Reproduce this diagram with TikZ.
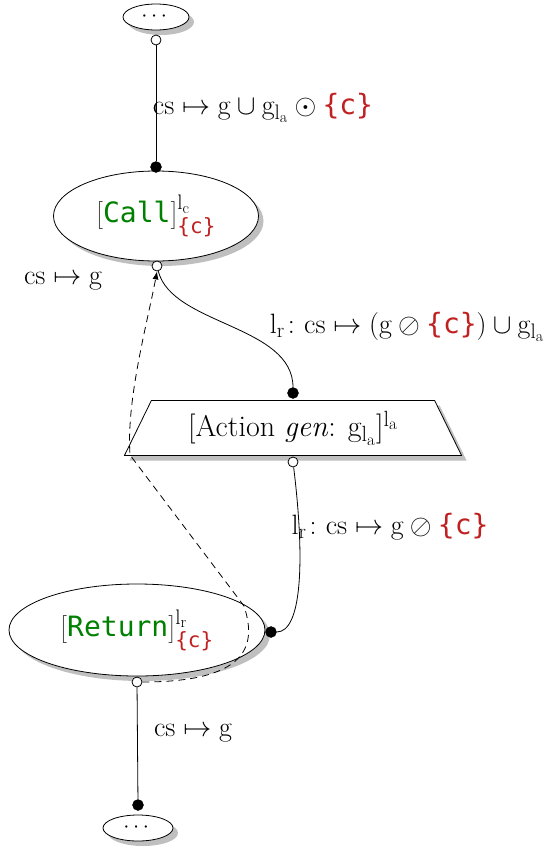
\RequirePackage{fix-cm}
\documentclass[tikz,border=0pt]{standalone}
\usepackage{amsmath}
\usepackage{fontspec}
\setmonofont{DejaVu Sans Mono}
\usetikzlibrary{shapes.geometric,shadows,arrows.meta}
\DeclareMathSizes{28}{28}{21}{16}
\DeclareMathSizes{30}{30}{22}{17}
\definecolor{kwgreen}{RGB}{0,128,0}
\definecolor{setred}{RGB}{192,32,32}
\definecolor{brk}{RGB}{70,70,70}
\newcommand{\setc}{\textcolor{setred}{\texttt{\{c\}}}}
\newcommand{\rr}[1]{\mathrm{#1}}
\begin{document}
\begin{tikzpicture}[x=1pt,y=1pt,
  every node/.style={font=\fontsize{28}{32}\selectfont},
  shad/.style={drop shadow={fill=black!25, opacity=1, shadow xshift=5pt, shadow yshift=-5pt}},
  stmt/.style={draw, fill=white, ellipse, inner sep=0pt, line width=0.8pt, shad},
  dotsnode/.style={stmt, font=\fontsize{22}{24}\selectfont},
  portin/.style={circle, draw, fill=white, inner sep=0pt, minimum size=10pt, line width=0.8pt},
  portout/.style={circle, draw, fill=black, inner sep=0pt, minimum size=11pt},
  conn/.style={line width=0.8pt},
  lbl/.style={inner sep=0pt}
]
\useasboundingbox (0,0) rectangle (558,-854);

% nodes
\node[dotsnode, minimum width=66pt, minimum height=26pt] (top) at (156,-17) {$\cdots$};
\node[stmt, minimum width=205pt, minimum height=90pt] (call) at (156,-216)
  {$\textcolor{brk}{[}\texttt{\textcolor{kwgreen}{Call}}\textcolor{brk}{]}^{\rr{l}_\rr{c}}_{\setc}$};
\node[draw, fill=white, trapezium, trapezium left angle=60, trapezium right angle=60,
  trapezium stretches=true, minimum width=338pt, minimum height=55pt, inner sep=0pt,
  line width=0.8pt, shad, font=\fontsize{30}{34}\selectfont] (act) at (293,-428)
  {[Action \emph{gen}: $\rr{g}_{\rr{l}_\rr{a}}$]$^{\rr{l}_\rr{a}}$};
\node[stmt, minimum width=256pt, minimum height=92pt] (ret) at (137,-630)
  {$\textcolor{brk}{[}\texttt{\textcolor{kwgreen}{Return}}\textcolor{brk}{]}^{\rr{l}_\rr{r}}_{\setc}$};
\node[dotsnode, minimum width=70pt, minimum height=26pt] (bot) at (138,-828) {$\cdots$};

% ports
\node[portin] (p1) at (156,-40) {};
\node[portout] (p2) at (156,-167) {};
\node[portin] (p3) at (157,-266) {};
\node[portout] (p4) at (293,-393) {};
\node[portin] (p5) at (293,-462) {};
\node[portout] (p6) at (271,-632) {};
\node[portin] (p7) at (137,-682) {};
\node[portout] (p8) at (138,-805) {};

% connectors
\draw[conn] (p1) -- (p2);
\draw[conn] (p3) .. controls (172,-325) and (293,-325) .. (p4);
\draw[conn] (p5) .. controls (305,-560) and (302,-632) .. (p6);
\draw[conn] (p7) -- (p8);

% dashed
\coordinate (d1) at (244,-606);
\coordinate (d2) at (130,-455);
\draw[conn, dash pattern=on 7pt off 5pt, -{Latex[length=8pt,width=6pt]}]
  (p7.east) .. controls (255,-682) and (255,-640) .. (d1)
  -- (d2) .. controls (126,-400) and (148,-320) .. (p3.south);

% labels
\node[lbl] (l1) at (263,-108) {$\rr{cs}\mapsto \rr{g}\cup \rr{g}_{\rr{l}_\rr{a}}\odot \setc$};
\node[lbl] (l2) at (63,-281) {$\rr{cs}\mapsto \rr{g}$};
\node[lbl] (l3) at (407,-327) {$\rr{l}_\rr{r}\colon \rr{cs}\mapsto (\rr{g}\oslash \setc)\cup \rr{g}_{\rr{l}_\rr{a}}$};
\node[lbl] (l4) at (390,-527) {$\rr{l}_\rr{r}\colon \rr{cs}\mapsto \rr{g}\oslash \setc$};
\node[lbl] (l5) at (193,-733) {$\rr{cs}\mapsto \rr{g}$};
\end{tikzpicture}
\end{document}
